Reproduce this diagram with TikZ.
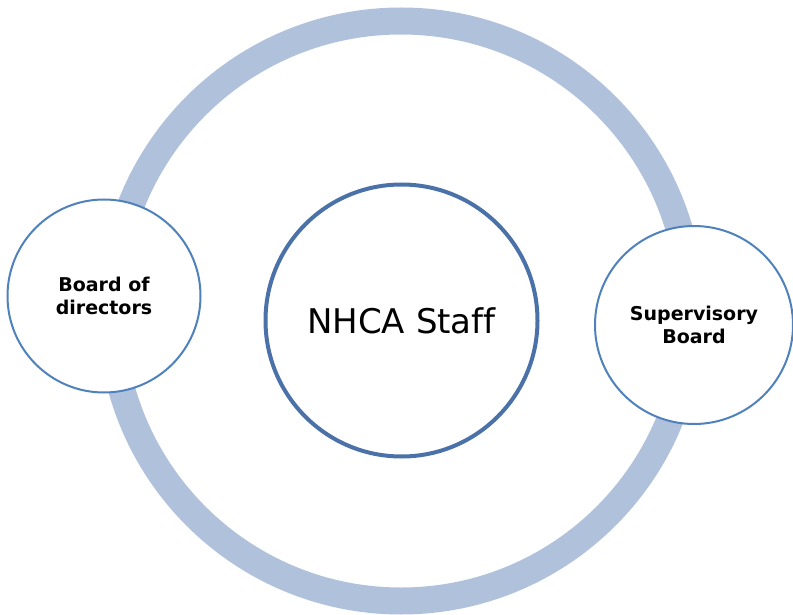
\documentclass[tikz,border=0pt]{standalone}
\usepackage{fontspec}
\setmainfont[Ligatures=NoCommon]{DejaVu Sans}
\definecolor{ringblue}{HTML}{B0C1DC}
\definecolor{edgeblue}{HTML}{4F81BD}
\definecolor{staffblue}{HTML}{4A72A8}
\begin{document}
\begin{tikzpicture}[x=1pt,y=-1pt]
      \useasboundingbox (0,0) rectangle (793,615);
      \node[circle,draw=ringblue,line width=27pt,minimum size=580pt,inner sep=0pt] (ring) at (401,311) {};
      \begin{scope}[every node/.style={circle,draw=edgeblue,fill=white,line width=2pt,inner sep=0pt,align=center,font=\bfseries\fontsize{19}{22.5}\selectfont}]
        \node[minimum size=193pt] (board) at (104,296) {Board of\\directors};
        \node[minimum size=198pt] (super) at (694,325) {Supervisory\\Board};
      \end{scope}
      \node[circle,draw=staffblue,fill=white,line width=4pt,minimum size=272pt,inner sep=0pt,font=\fontsize{34}{40}\selectfont] (staff) at (401.5,320.5) {NHCA Staff};
    \end{tikzpicture}
\end{document}
